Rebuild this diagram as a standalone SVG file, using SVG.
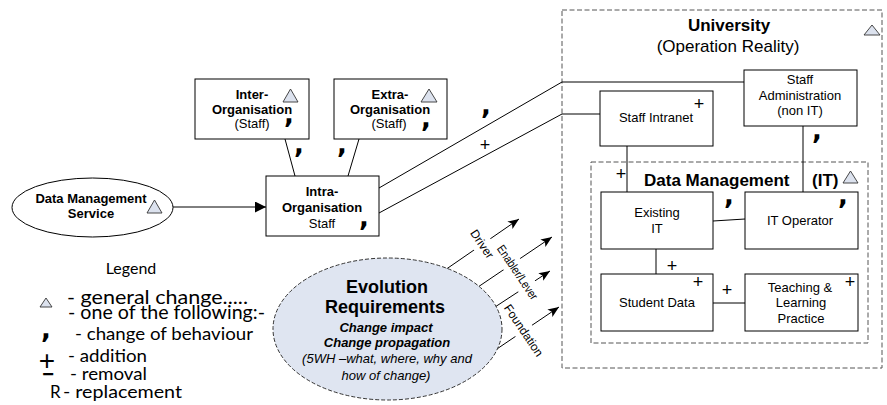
<svg xmlns="http://www.w3.org/2000/svg" width="887" height="405" viewBox="0 0 887 405">
<defs>
<marker id="ah" markerUnits="userSpaceOnUse" markerWidth="12" markerHeight="10" refX="11" refY="4.5" orient="auto">
<path d="M0,0 L11,4.5 L0,9 L2.5,4.5 Z" fill="#000"/>
</marker>
<marker id="ah2" markerUnits="userSpaceOnUse" markerWidth="12" markerHeight="12" refX="11" refY="5.5" orient="auto">
<path d="M0,0 L11,5.5 L0,11 Z" fill="#000"/>
</marker>
</defs>
<style>
.box{fill:#fff;stroke:#000;stroke-width:1}
.ln{fill:none;stroke:#000;stroke-width:1}
.dash{fill:none;stroke:#555;stroke-width:1;stroke-dasharray:5 2.5}
.tri{fill:#dce2ee;stroke:#333;stroke-width:0.9}
.t{font-family:"Liberation Sans",Arial,sans-serif;font-size:13px;fill:#000;text-anchor:middle}
.b{font-weight:bold}
.cm{font-family:"DejaVu Sans",sans-serif;font-weight:bold;font-size:26px;fill:#000;text-anchor:middle}
.pl{font-family:"Liberation Sans",Arial,sans-serif;font-size:18px;fill:#000;text-anchor:middle}
.lg{font-family:Lato,"Open Sans",sans-serif;fill:#000}
.rl{font-family:"Liberation Sans",Arial,sans-serif;font-size:12px;fill:#000;text-anchor:middle}
</style>
<rect width="887" height="405" fill="#fff"/>

<g id="university">
<rect x="562" y="10" width="320" height="358" class="dash"/>
<text x="729" y="31" class="t b" style="font-size:17px">University</text>
<text x="728" y="52" class="t" style="font-size:17px">(Operation Reality)</text>
<polygon class="tri" points="864,35 872,25 880,35"/>
</g>

<g id="data-management">
<rect x="591" y="162" width="277" height="181" class="dash"/>
<text x="644" y="186" class="t b" style="font-size:17px;text-anchor:start">Data Management</text>
<text x="812" y="186" class="t b" style="font-size:17px;text-anchor:start">(IT)</text>
<polygon class="tri" points="843,183 850.5,171 858,183"/>
<text x="621" y="180" class="pl">+</text>
</g>

<g id="connectors">
<line class="ln" x1="285" y1="139" x2="295" y2="176"/>
<line class="ln" x1="359" y1="139" x2="348" y2="176"/>
<line class="ln" x1="173" y1="207" x2="266" y2="207" marker-end="url(#ah2)"/>
<polyline class="ln" points="379,188 562,82 744,82"/>
<polyline class="ln" points="379,213 562,114 600,114"/>
<line class="ln" x1="627" y1="146" x2="627" y2="192"/>
<line class="ln" x1="803" y1="126" x2="803" y2="192"/>
<line class="ln" x1="713" y1="221" x2="745" y2="219"/>
<line class="ln" x1="656" y1="249" x2="656" y2="274"/>
<line class="ln" x1="713" y1="303" x2="745" y2="303"/>
<line class="ln" x1="445" y1="270" x2="519" y2="219" marker-end="url(#ah)"/>
<line class="ln" x1="478" y1="287" x2="552" y2="237" marker-end="url(#ah)"/>
<line class="ln" x1="495" y1="307" x2="550" y2="271" marker-end="url(#ah)"/>
<line class="ln" x1="488" y1="355" x2="559" y2="307" marker-end="url(#ah)"/>
<g transform="translate(482,244) rotate(56)">
<rect x="-19" y="-10" width="38" height="20" fill="#fff"/>
<text x="0" y="4" class="rl">Driver</text>
</g>
<g transform="translate(517.5,272.5) rotate(56)">
<rect x="-33" y="-10" width="66" height="20" fill="#fff"/>
<text x="0" y="4" class="rl" textLength="63" lengthAdjust="spacingAndGlyphs">Enabler/Lever</text>
</g>
<g transform="translate(523.5,330.5) rotate(56)">
<rect x="-32" y="-10" width="64" height="20" fill="#fff"/>
<text x="0" y="4" class="rl">Foundation</text>
</g>
<text x="299" y="153" class="cm">,</text>
<text x="342" y="153" class="cm">,</text>
<text x="486" y="114" class="cm">,</text>
<text x="485" y="151" class="pl">+</text>
<text x="729" y="204" class="cm">,</text>
<text x="817" y="139" class="cm">,</text>
<text x="672" y="272" class="pl">+</text>
<text x="727" y="296" class="pl">+</text>
</g>

<g id="dms">
<ellipse cx="92.5" cy="207.5" rx="80.5" ry="29.5" class="box"/>
<text x="91" y="203" class="t b">Data Management</text>
<text x="91" y="218" class="t b">Service</text>
<polygon class="tri" points="147,213 154.5,200 162,213"/>
</g>

<g id="inter-org">
<rect x="195" y="79" width="114" height="60" class="box"/>
<text x="252" y="99" class="t b">Inter-</text>
<text x="252" y="114" class="t b">Organisation</text>
<text x="252" y="128" class="t">(Staff)</text>
<polygon class="tri" points="283,102 290.5,89 298,102"/>
<text x="289" y="123" class="cm">,</text>
</g>

<g id="extra-org">
<rect x="334" y="79" width="113" height="60" class="box"/>
<text x="390" y="99" class="t b">Extra-</text>
<text x="390" y="114" class="t b">Organisation</text>
<text x="389" y="128" class="t">(Staff)</text>
<polygon class="tri" points="421,102 429,89 437,102"/>
<text x="426" y="127" class="cm">,</text>
</g>

<g id="intra-org">
<rect x="266" y="176" width="113" height="60" class="box"/>
<text x="322" y="196" class="t b">Intra-</text>
<text x="322" y="212" class="t b">Organisation</text>
<text x="322" y="228" class="t">Staff</text>
<text x="364" y="226" class="cm">,</text>
</g>

<g id="staff-intranet">
<rect x="600" y="91" width="113" height="55" class="box"/>
<text x="656" y="122" class="t">Staff Intranet</text>
<text x="699" y="110" class="pl">+</text>
</g>

<g id="staff-admin">
<rect x="744" y="70" width="113" height="56" class="box"/>
<text x="800" y="84" class="t">Staff</text>
<text x="800" y="100" class="t">Administration</text>
<text x="800" y="115" class="t">(non IT)</text>
</g>

<g id="existing-it">
<rect x="601" y="192" width="112" height="57" class="box"/>
<text x="657" y="217" class="t">Existing</text>
<text x="657" y="233" class="t">IT</text>
</g>

<g id="it-operator">
<rect x="745" y="192" width="113" height="57" class="box"/>
<text x="800" y="225" class="t">IT Operator</text>
<text x="843" y="204" class="cm">,</text>
</g>

<g id="student-data">
<rect x="601" y="274" width="112" height="57" class="box"/>
<text x="657" y="307" class="t">Student Data</text>
<text x="698" y="288" class="pl">+</text>
</g>

<g id="teaching">
<rect x="745" y="274" width="113" height="57" class="box"/>
<text x="800" y="292" class="t">Teaching  &amp;</text>
<text x="801" y="307" class="t">Learning</text>
<text x="801" y="323" class="t">Practice</text>
<text x="850" y="288" class="pl">+</text>
</g>

<g id="evolution">
<ellipse cx="387.5" cy="329" rx="114.5" ry="71" fill="#dfe5f1" stroke="#333" stroke-width="1" stroke-dasharray="4 2"/>
<text x="387" y="293" class="t b" style="font-size:18px">Evolution</text>
<text x="385" y="313" class="t b" style="font-size:18px">Requirements</text>
<text x="386" y="332" class="t b" style="font-style:italic">Change impact</text>
<text x="387" y="347" class="t b" style="font-style:italic">Change propagation</text>
<text x="387" y="363" class="t" style="font-style:italic">(5WH –what, where, why and</text>
<text x="386" y="380" class="t" style="font-style:italic">how of change)</text>
</g>

<g id="legend">
<text x="131" y="274" class="lg" style="font-size:16px;text-anchor:middle">Legend</text>
<polygon class="tri" points="40,307 46,298 52,307"/>
<text x="67" y="304" class="lg" style="font-size:20px" textLength="181" lengthAdjust="spacingAndGlyphs">- general change.....</text>
<text x="68" y="319" class="lg" style="font-size:20px" textLength="197" lengthAdjust="spacingAndGlyphs">- one of the following:-</text>
<text x="46" y="338" class="cm">,</text>
<text x="75" y="340" class="lg" style="font-size:17px" textLength="178" lengthAdjust="spacingAndGlyphs">- change of behaviour</text>
<text x="47" y="370" class="pl" style="font-size:28px">+</text>
<text x="68" y="362" class="lg" style="font-size:17px" textLength="79" lengthAdjust="spacingAndGlyphs">- addition</text>
<text x="48" y="381" class="pl b" style="font-size:20px">−</text>
<text x="70" y="380" class="lg" style="font-size:17px" textLength="77" lengthAdjust="spacingAndGlyphs">- removal</text>
<text x="50" y="398" class="lg" style="font-size:17px">R</text>
<text x="63" y="398" class="lg" style="font-size:17px" textLength="119" lengthAdjust="spacingAndGlyphs">- replacement</text>
</g>
</svg>
